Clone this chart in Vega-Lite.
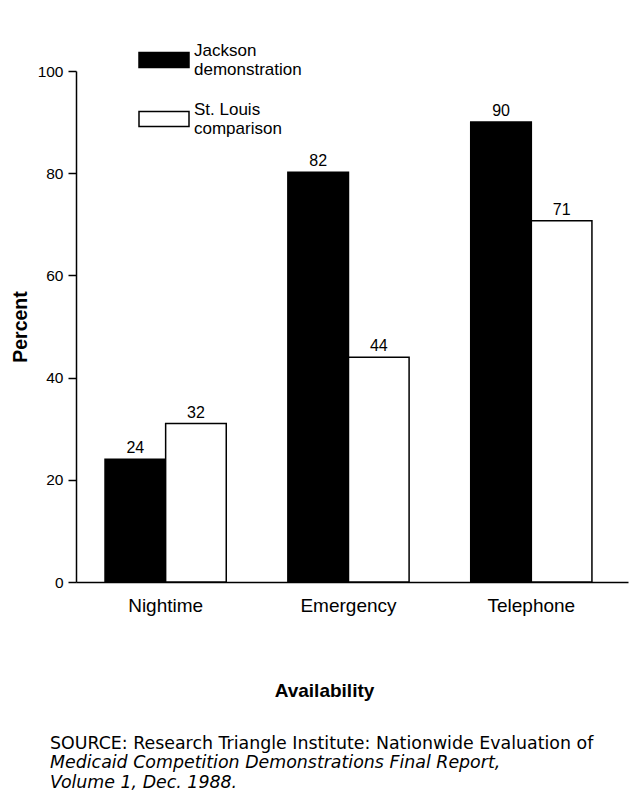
{
  "$schema": "https://vega.github.io/schema/vega-lite/v6.json",
  "width": 552,
  "height": 511,
  "autosize": {"type": "none"},
  "padding": {"left": 76, "top": 71, "right": 14, "bottom": 223},
  "background": "white",
  "config": {"font": "Liberation Sans", "view": {"stroke": null}},
  "title": {
    "text": "SOURCE: Research Triangle Institute: Nationwide Evaluation of",
    "subtitle": ["Medicaid Competition Demonstrations Final Report,", "Volume 1, Dec. 1988."],
    "orient": "bottom",
    "anchor": "start",
    "frame": "group",
    "dx": -26,
    "offset": 35,
    "font": "DejaVu Sans",
    "fontSize": 17.4,
    "fontWeight": "normal",
    "color": "black",
    "subtitleFont": "DejaVu Sans",
    "subtitleFontSize": 17.4,
    "subtitleFontStyle": "italic",
    "subtitleColor": "black",
    "subtitlePadding": 2,
    "lineHeight": 20,
    "subtitleLineHeight": 20
  },
  "data": {
    "values": [
      {"availability": "Nightime", "group": "Jackson demonstration", "percent": 24, "label": "24"},
      {"availability": "Nightime", "group": "St. Louis comparison", "percent": 31, "label": "32"},
      {"availability": "Emergency", "group": "Jackson demonstration", "percent": 80.2, "label": "82"},
      {"availability": "Emergency", "group": "St. Louis comparison", "percent": 44, "label": "44"},
      {"availability": "Telephone", "group": "Jackson demonstration", "percent": 90, "label": "90"},
      {"availability": "Telephone", "group": "St. Louis comparison", "percent": 70.7, "label": "71"}
    ]
  },
  "encoding": {
    "x": {
      "field": "availability",
      "type": "nominal",
      "sort": ["Nightime", "Emergency", "Telephone"],
      "scale": {"paddingInner": 0.337, "paddingOuter": 0.178, "align": 0.446},
      "axis": {
        "title": "Availability",
        "titleFontSize": 19,
        "titleFontWeight": "bold",
        "titleColor": "black",
        "titlePadding": 66,
        "titleX": 248,
        "labelAngle": 0,
        "labelFontSize": 19,
        "labelColor": "black",
        "ticks": false,
        "labelPadding": 14,
        "domainColor": "black",
        "domainWidth": 1.5
      }
    },
    "xOffset": {"field": "group", "sort": ["Jackson demonstration", "St. Louis comparison"]},
    "y": {
      "field": "percent",
      "type": "quantitative",
      "scale": {"domain": [0, 100], "nice": false},
      "axis": {
        "title": "Percent",
        "titleFontSize": 19.5,
        "titleFontWeight": "bold",
        "titleColor": "black",
        "titlePadding": 7,
        "values": [0, 20, 40, 60, 80, 100],
        "labelFontSize": 15.5,
        "labelColor": "black",
        "labelPadding": 5,
        "tickColor": "black",
        "tickSize": 8,
        "tickWidth": 1.5,
        "domainColor": "black",
        "domainWidth": 1.5,
        "grid": false
      }
    }
  },
  "layer": [
    {
      "mark": {"type": "bar", "stroke": "black", "strokeWidth": 1.5},
      "encoding": {
        "color": {
          "field": "group",
          "type": "nominal",
          "scale": {"domain": ["Jackson demonstration", "St. Louis comparison"], "range": ["black", "white"]},
          "legend": {
            "orient": "none",
            "legendX": 62,
            "legendY": -37,
            "title": null,
            "direction": "vertical",
            "symbolType": "M-1,-0.3H1V0.3H-1Z",
            "symbolSize": 2500,
            "symbolStrokeColor": "black",
            "symbolStrokeWidth": 1.5,
            "labelFontSize": 17,
            "labelColor": "black",
            "labelOffset": 4,
            "labelLimit": 300,
            "labelBaseline": "bottom",
            "rowPadding": 15,
            "labelExpr": "datum.label == 'Jackson demonstration' ? ['Jackson', 'demonstration'] : ['St. Louis', 'comparison']"
          }
        }
      }
    },
    {
      "mark": {"type": "text", "baseline": "bottom", "dy": -3, "fontSize": 16, "color": "black"},
      "encoding": {"text": {"field": "label"}}
    }
  ]
}
